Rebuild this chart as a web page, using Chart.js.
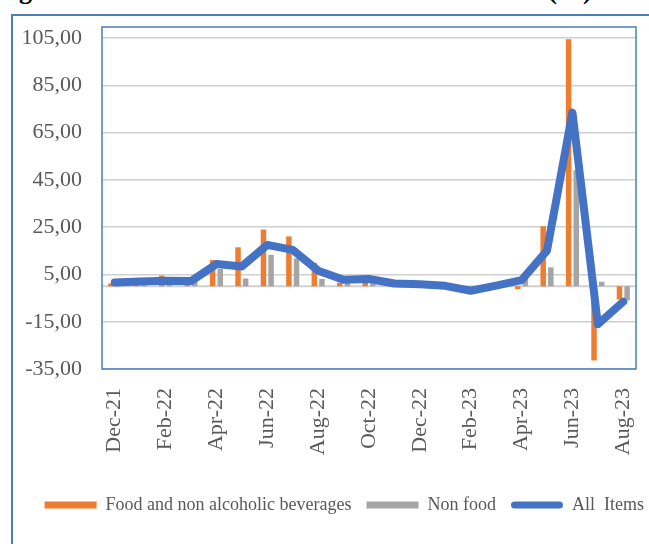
<!DOCTYPE html>
<html>
<head>
<meta charset="utf-8">
<script src="https://cdn.jsdelivr.net/npm/chart.js@4.4.1/dist/chart.umd.min.js"></script>
<style>
  html, body { margin: 0; padding: 0; background: #fff; overflow: hidden; }
  #wrap { position: relative; width: 649px; height: 544px; overflow: hidden; }
  #titulo { position: absolute; left: -4px; top: -22px; font: bold 26px 'Liberation Serif', serif; line-height: 26px; white-space: nowrap; word-spacing: 24px; color: #000; }
  #moldura { position: absolute; left: 11px; top: 14px; width: 700px; height: 600px; border: 2px solid #4A7EBB; box-sizing: border-box; }
  canvas { position: absolute; left: 0; top: 0; }
</style>
</head>
<body>
<div id="wrap">
  <div id="titulo">Figure 1: Month on Month Inflation (%)</div>
  <div id="moldura"></div>
  <canvas id="grafico" width="649" height="544"></canvas>
</div>
<script>
// dados
const meses = ['Dec-21', 'Jan-22', 'Feb-22', 'Mar-22', 'Apr-22', 'May-22', 'Jun-22', 'Jul-22', 'Aug-22', 'Sep-22', 'Oct-22',
    'Nov-22', 'Dec-22', 'Jan-23', 'Feb-23', 'Mar-23', 'Apr-23', 'May-23', 'Jun-23', 'Jul-23', 'Aug-23'];
const alimentos = [1.2, 1.5, 4.5, 2.0, 11.1, 16.5, 24.0, 21.1, 9.9, 1.5, 2.2, 0.8, 0.6, 0.3, -1.2, -0.4, -1.2, 25.4, 104.5, -31.4, -5.6];
const naoAlimentos = [1.8, 1.8, 2.0, 2.4, 7.3, 3.3, 13.3, 11.8, 3.1, 4.0, 1.2, 0.9, 0.8, 0.5, -1.5, 0.8, 3.2, 8.0, 49.1, 1.9, -6.0];
const todosItens = [1.6, 2.0, 2.3, 2.2, 9.4, 8.4, 17.5, 15.4, 6.6, 2.8, 3.1, 1.2, 0.9, 0.2, -1.9, 0.3, 2.6, 15.1, 73.5, -16.1, -6.5];
const ticksY = [-35, -15, 5, 25, 45, 65, 85, 105];

const fonte = "'Liberation Serif', 'Times New Roman', serif";
const corTexto = '#595959';

// linha do zero e borda azul da area do grafico
const bordaArea = {
    id: 'bordaArea',
    afterLayout: (chart) => {
        // empurra a legenda um pouco para a direita, como no original
        chart.legend.left += 10;
        chart.legend.right += 10;
    },
    beforeDatasetsDraw: (chart) => {
        const ctx = chart.ctx;
        const area = chart.chartArea;
        const y0 = chart.scales.y.getPixelForValue(0);
        ctx.save();
        ctx.strokeStyle = '#D0D0D0';
        ctx.lineWidth = 2;
        ctx.beginPath();
        ctx.moveTo(area.left, y0);
        ctx.lineTo(area.right, y0);
        ctx.stroke();
        ctx.strokeStyle = '#4A7EBB';
        ctx.lineWidth = 1.5;
        ctx.strokeRect(area.left, area.top, area.right - area.left, area.bottom - area.top);
        ctx.restore();
    }
};

const ctx = document.getElementById('grafico').getContext('2d');
const grafico = new Chart(ctx, {
    type: 'bar',
    data: {
        labels: meses,
        datasets: [{
            label: 'Food and non alcoholic beverages',
            data: alimentos,
            backgroundColor: '#ED7D31',
            order: 1
        }, {
            label: 'Non food',
            data: naoAlimentos,
            backgroundColor: '#A5A5A5',
            order: 2
        }, {
            type: 'line',
            label: 'All  Items',
            data: todosItens,
            borderColor: '#4472C4',
            backgroundColor: '#4472C4',
            borderWidth: 8,
            borderJoinStyle: 'round',
            borderCapStyle: 'round',
            pointRadius: 0,
            tension: 0,
            order: 0
        }]
    },
    options: {
        responsive: false,
        animation: false,
        categoryPercentage: 0.6,
        barPercentage: 0.72,
        layout: {
            padding: { top: 27, left: 0, right: 0, bottom: 20 }
        },
        plugins: {
            tooltip: { enabled: false },
            legend: {
                position: 'bottom',
                align: 'end',
                labels: {
                    font: { family: fonte, size: 18 },
                    color: corTexto,
                    boxWidth: 52,
                    boxHeight: 7,
                    padding: 15,
                    useBorderRadius: true,
                    generateLabels: (chart) => {
                        const itens = Chart.defaults.plugins.legend.labels.generateLabels(chart);
                        itens.sort((a, b) => a.datasetIndex - b.datasetIndex);
                        itens.forEach(it => {
                            it.lineWidth = 0;
                            it.borderRadius = it.datasetIndex === 2 ? 3.5 : 0;
                        });
                        return itens;
                    }
                }
            }
        },
        scales: {
            x: {
                grid: { display: false, drawTicks: false },
                border: { display: false },
                ticks: {
                    autoSkip: false,
                    minRotation: 90,
                    maxRotation: 90,
                    padding: 19,
                    color: corTexto,
                    font: { family: fonte, size: 22 },
                    callback: function (valor, i) {
                        return i % 2 === 0 ? this.getLabelForValue(valor) : '';
                    }
                },
                afterFit: (escala) => {
                    escala.height = 112;
                    escala.paddingLeft = 0;
                    escala.paddingRight = 0;
                }
            },
            y: {
                min: -35,
                max: 109.7,
                grid: { color: '#D0D0D0', lineWidth: 1.5, drawTicks: false },
                border: { display: false },
                ticks: {
                    padding: 20,
                    color: corTexto,
                    font: { family: fonte, size: 22 },
                    callback: (v) => v.toFixed(2).replace('.', ',')
                },
                afterBuildTicks: (escala) => { escala.ticks = ticksY.map(v => ({ value: v })); },
                afterFit: (escala) => {
                    escala.width = 102;
                    escala.paddingTop = 0;
                    escala.paddingBottom = 0;
                }
            },
            direita: {
                position: 'right',
                display: true,
                grid: { display: false, drawTicks: false },
                border: { display: false },
                ticks: { display: false },
                afterFit: (escala) => {
                    escala.width = 13;
                    escala.paddingTop = 0;
                    escala.paddingBottom = 0;
                }
            }
        }
    },
    plugins: [bordaArea]
});
</script>
</body>
</html>
